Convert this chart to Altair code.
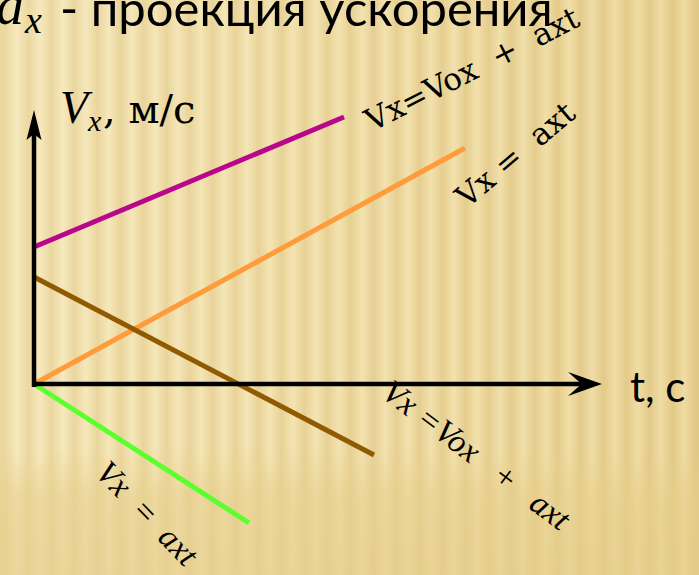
import altair as alt
import numpy as np
import pandas as pd

W, H = 699, 575

# --- velocity graphs: V_x(t), arbitrary units (1 unit = 10 px) ---
series = ["v0>0, a>0", "v0=0, a>0", "v0>0, a<0", "v0=0, a<0"]
t_start = [0.0, 0.0, 0.0, 0.0]
t_end = [31.0, 43.1, 34.0, 21.5]
v_start = [13.7, 0.0, 10.7, 0.0]
v_end = [26.7, 23.6, -7.1, -13.9]
colors = ["#B8078B", "#FF9B3A", "#8F5A00", "#5CFF2E"]

# axis extents (arrow tips)
t_tip = 56.8
v_tip = 27.4

# visible window in the same units
t_domain = [-3.4, 66.5]
v_domain = [-19.1, 38.4]

lines = pd.DataFrame(
    {"series": series, "t0": t_start, "t1": t_end, "v0": v_start, "v1": v_end}
)

xs = alt.Scale(domain=t_domain, nice=False, zero=False)
ys = alt.Scale(domain=v_domain, nice=False, zero=False)
one = pd.DataFrame({"k": [0]})

# --- striped paper background ---
def mix(c1, c2, f):
    a = np.array([int(c1[i:i + 2], 16) for i in (1, 3, 5)])
    b = np.array([int(c2[i:i + 2], 16) for i in (1, 3, 5)])
    c = np.round(a + (b - a) * f).astype(int)
    return "#%02x%02x%02x" % tuple(c)

period = 23.0
stops = []
n = int(W / period) + 2
for i in range(2 * n):
    off = (i * period / 2 - 6) / W
    if off < 0 or off > 1:
        continue
    f = off
    if i % 2 == 0:
        col = mix("#F7EAC0", "#EFDCA2", f)
    else:
        col = mix("#EBD8A1", "#E2C886", f)
    stops.append(alt.GradientStop(color=col, offset=float(off)))

bg = alt.Chart(one).mark_rect(
    fill=alt.LinearGradient(gradient="linear", stops=stops, x1=0, x2=1, y1=0, y2=0)
).encode(x=alt.value(0), x2=alt.value(W), y=alt.value(0), y2=alt.value(H))

haze = alt.Chart(one).mark_rect(
    fill=alt.LinearGradient(
        gradient="linear",
        stops=[
            alt.GradientStop(color="rgba(232,208,140,0)", offset=0.0),
            alt.GradientStop(color="rgba(232,208,140,0)", offset=0.78),
            alt.GradientStop(color="rgba(230,206,138,0.55)", offset=0.86),
            alt.GradientStop(color="rgba(228,204,136,0.6)", offset=1.0),
        ],
        x1=0, x2=0, y1=0, y2=1,
    )
).encode(x=alt.value(0), x2=alt.value(W), y=alt.value(0), y2=alt.value(H))

# --- coordinate axes with arrows ---
axes = pd.DataFrame(
    {"t0": [0.0, -0.2], "t1": [0.0, t_tip - 2.0], "v0": [-0.3, 0.0], "v1": [v_tip - 2.0, 0.0]}
)
axis_rules = alt.Chart(axes).mark_rule(color="black", strokeWidth=4.5).encode(
    x=alt.X("t0:Q", scale=xs, axis=None),
    x2="t1",
    y=alt.Y("v0:Q", scale=ys, axis=None),
    y2="v1",
)

heads = pd.DataFrame(
    {"t": [0.0, t_tip - 1.7], "v": [v_tip - 1.5, 0.0], "dir": ["up", "right"]}
)
head_up = alt.Chart(heads).transform_filter(alt.datum.dir == "up").mark_point(
    shape="M0,-1L0.5,1L0,0.6L-0.5,1Z", size=900, filled=True, color="black", opacity=1
).encode(x=alt.X("t:Q", scale=xs, axis=None), y=alt.Y("v:Q", scale=ys, axis=None))
head_right = alt.Chart(heads).transform_filter(alt.datum.dir == "right").mark_point(
    shape="M1,0L-1,-0.7L-0.2,0L-1,0.7Z", size=1156, filled=True, color="black", opacity=1
).encode(x=alt.X("t:Q", scale=xs, axis=None), y=alt.Y("v:Q", scale=ys, axis=None))

graphs = alt.Chart(lines).mark_rule(strokeWidth=5, strokeCap="butt").encode(
    x=alt.X("t0:Q", scale=xs, axis=None),
    x2="t1",
    y=alt.Y("v0:Q", scale=ys, axis=None),
    y2="v1",
    color=alt.Color("series:N", scale=alt.Scale(domain=series, range=colors), legend=None),
)

# --- texts ---
def label(text, x, y, size, font, angle=0, style="normal", weight="normal"):
    return alt.Chart(one).mark_text(
        text=text, font=font, fontSize=size, fontStyle=style, fontWeight=weight,
        angle=angle, align="left", baseline="alphabetic", color="black",
    ).encode(x=alt.value(x), y=alt.value(y))

serif = "Liberation Serif"
sans = "Lato"
sp = "\u00a0"  # non-collapsing space for the spaced-out formulas

texts = [
    label("a", -4, 24, 56, serif, style="italic"),
    label("x", 25, 33, 38, serif, style="italic"),
    label("- проекция ускорения", 60, 26, 49, sans),
    label("V", 60, 123, 46, serif, style="italic"),
    label("x", 88, 131, 30, serif, style="italic"),
    label(", м/с", 103, 123, 40, "DejaVu Serif"),
    label("t, c", 630, 402, 42, sans),
    label("Vx=Vox" + sp * 2 + "+" + sp * 2 + "axt", 372, 132, 31, "DejaVu Serif", angle=333),
    label("Vx" + sp + "=" + sp * 2 + "axt", 467, 209, 31, "DejaVu Serif", angle=320),
    label("Vx" + sp + "=Vox" + sp * 3 + "+" + sp * 3 + "axt", 380, 396, 33, serif, angle=37, style="italic"),
    label("Vx" + sp * 2 + "=" + sp * 2 + "axt", 94, 474, 33, serif, angle=46, style="italic"),
]

chart = alt.layer(
    bg, haze, graphs, axis_rules, head_up, head_right, *texts
).properties(
    width=W, height=H, padding=0, autosize=alt.AutoSizeParams(type="none")
).configure_view(stroke=None)

chart.save("out.html", embed_options={"renderer": "svg", "actions": False})
